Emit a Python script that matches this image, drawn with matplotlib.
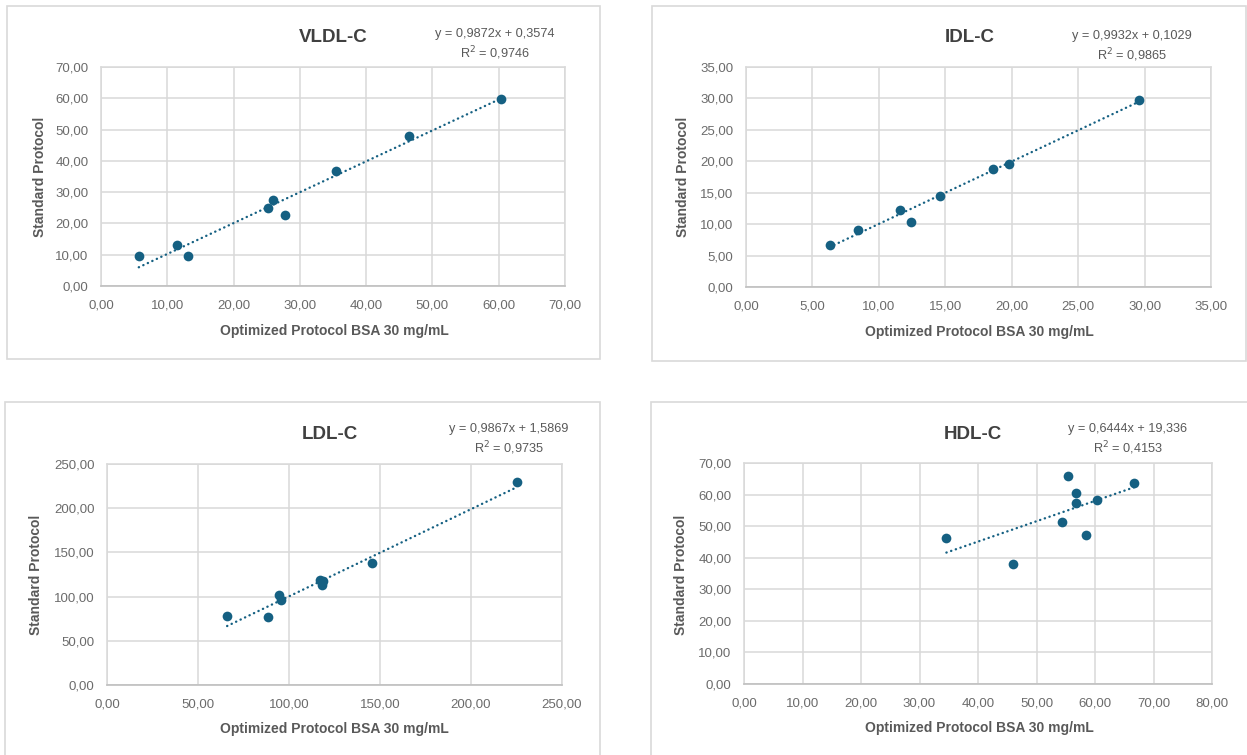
import matplotlib
matplotlib.use("Agg")
import matplotlib.pyplot as plt
import numpy as np
from matplotlib.ticker import FuncFormatter, MultipleLocator
from matplotlib.patches import Rectangle

# ---------------- data ----------------
titles = ["VLDL-C", "IDL-C", "LDL-C", "HDL-C"]

vldl_x = [5.7, 11.5, 13.1, 25.2, 26.0, 27.8, 35.4, 46.4, 60.3]
vldl_y = [9.6, 13.0, 9.6, 25.0, 27.5, 22.7, 36.9, 48.0, 59.8]

idl_x = [6.3, 8.4, 11.6, 12.4, 14.6, 18.6, 19.8, 29.6]
idl_y = [6.7, 9.1, 12.3, 10.3, 14.4, 18.8, 19.6, 29.7]

ldl_x = [66.0, 88.7, 94.4, 95.8, 117.3, 118.9, 118.3, 145.5, 225.2]
ldl_y = [78.4, 76.5, 101.8, 96.5, 118.8, 117.3, 112.8, 138.0, 230.0]

hdl_x = [34.6, 46.0, 54.3, 55.3, 56.7, 56.8, 58.4, 60.3, 66.7]
hdl_y = [46.4, 37.9, 51.2, 65.9, 60.6, 57.2, 47.2, 58.4, 63.7]

slopes = [0.9872, 0.9932, 0.9867, 0.6444]
intercepts = [0.3574, 0.1029, 1.5869, 19.336]
equations = ["y = 0,9872x + 0,3574\nR$^2$ = 0,9746",
             "y = 0,9932x + 0,1029\nR$^2$ = 0,9865",
             "y = 0,9867x + 1,5869\nR$^2$ = 0,9735",
             "y = 0,6444x + 19,336\nR$^2$ = 0,4153"]

x_max = [70, 35, 250, 80]
y_max = [70, 35, 250, 70]
x_step = [10, 5, 50, 10]
y_step = [10, 5, 50, 10]

xlabel = "Optimized Protocol BSA 30 mg/mL"
ylabel = "Standard Protocol"

# ---------------- layout (pixels) ----------------
W, H = 1247, 755
plot_boxes = [(101, 67, 565, 286), (746, 67, 1211, 287),
              (107, 464, 562, 685), (744, 463, 1212, 684)]
frames = [(7, 6, 600, 359), (652, 6, 1246, 361),
          (5, 402, 600, 770), (651, 402, 1260, 770)]
title_pos = [(333, 38), (970, 38), (330, 435), (973, 435)]
eq_pos = [(495, 45), (1132, 47), (509, 440), (1128, 440)]
xlab_pos = [(334, 331), (979, 332), (334, 729), (979, 728)]
ylab_pos = [(40, 177), (683, 177), (36, 575), (681, 575)]

FONT = ["Liberation Sans", "DejaVu Sans"]
plt.rcParams["font.family"] = FONT

MARK = "#156082"
GRID = "#d9d9d9"
TICKC = "#6b6b6b"
LABC = "#595959"
TITC = "#404040"

fig = plt.figure(figsize=(W / 100, H / 100), dpi=100)
fig.patch.set_facecolor("white")

fmt = FuncFormatter(lambda v, p: f"{v:.2f}".replace(".", ","))

datasets = [(vldl_x, vldl_y), (idl_x, idl_y), (ldl_x, ldl_y), (hdl_x, hdl_y)]


def fx(px):
    return px / W


def fy(py):
    return 1 - py / H


for i, (xs, ys) in enumerate(datasets):
    fl, ft, fr, fb = frames[i]
    fig.patches.append(Rectangle((fx(fl), fy(fb)), (fr - fl) / W, (fb - ft) / H,
                                 transform=fig.transFigure, fill=False,
                                 edgecolor=GRID, linewidth=1.2, zorder=0))
    l, t, r, b = plot_boxes[i]
    ax = fig.add_axes([fx(l), fy(b), (r - l) / W, (b - t) / H])
    ax.set_xlim(0, x_max[i])
    ax.set_ylim(0, y_max[i])
    ax.xaxis.set_major_locator(MultipleLocator(x_step[i]))
    ax.yaxis.set_major_locator(MultipleLocator(y_step[i]))
    ax.xaxis.set_major_formatter(fmt)
    ax.yaxis.set_major_formatter(fmt)
    ax.grid(True, color=GRID, linewidth=1.1)
    ax.set_axisbelow(True)
    for s in ["top", "right", "left"]:
        ax.spines[s].set_color(GRID)
        ax.spines[s].set_linewidth(1.1)
    ax.spines["bottom"].set_color("#bfbfbf")
    ax.spines["bottom"].set_linewidth(1.2)
    ax.tick_params(axis="both", length=0, labelsize=9.5, labelcolor=TICKC)
    ax.tick_params(axis="x", pad=10)
    ax.tick_params(axis="y", pad=9)

    xs_a = np.array(xs)
    xx = np.array([xs_a.min(), xs_a.max()])
    ax.plot(xx, slopes[i] * xx + intercepts[i], color=MARK, linewidth=1.7,
            linestyle=(0, (0.1, 2.0)), dash_capstyle="round", zorder=3)
    ax.plot(xs, ys, "o", color=MARK, markersize=7, markeredgewidth=0, zorder=4)

    fig.text(fx(title_pos[i][0]), fy(title_pos[i][1]), titles[i], ha="center",
             va="center", fontsize=13.5, fontweight="bold", color=TITC)
    fig.text(fx(eq_pos[i][0]), fy(eq_pos[i][1]), equations[i], ha="center",
             va="center", fontsize=9.2, color=LABC, linespacing=1.35)
    fig.text(fx(xlab_pos[i][0]), fy(xlab_pos[i][1]), xlabel, ha="center",
             va="center", fontsize=10, fontweight="bold", color=LABC)
    fig.text(fx(ylab_pos[i][0]), fy(ylab_pos[i][1]), ylabel, ha="center",
             va="center", fontsize=10, fontweight="bold", color=LABC,
             rotation=90)

fig.savefig("out.png", dpi=100, facecolor="white")
